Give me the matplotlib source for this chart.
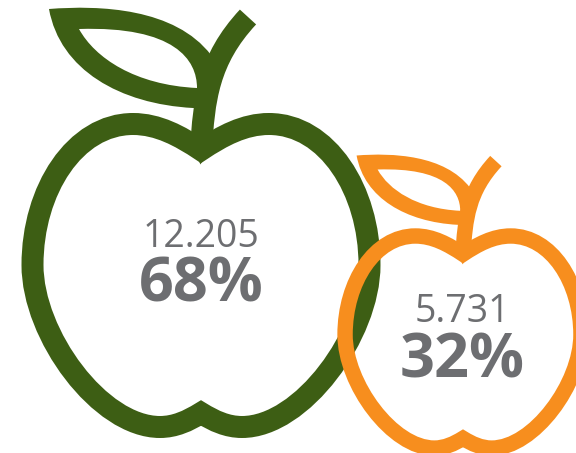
import numpy as np
import matplotlib
matplotlib.use("Agg")
import matplotlib.pyplot as plt
from matplotlib.path import Path
from matplotlib.patches import PathPatch

counts = [12205, 5731]
shares = [68, 32]
colors = ["#3d5e14", "#f78e1e"]
apple_scale = [1.0, 0.70]
anchors = [(201, 0), (463, 100)]
count_baselines = [247, 322]
share_baselines = [301, 378]
label_x = [201, 462]

M, C, L, Z = Path.MOVETO, Path.CURVE4, Path.LINETO, Path.CLOSEPOLY

body_v = [(201, 150),
          (180, 136), (158, 124), (133, 124),
          (75, 124), (32.5, 190), (32.5, 265),
          (32.5, 335), (100, 427), (160, 427),
          (175, 427), (188, 421), (201, 413),
          (214, 421), (227, 427), (242, 427),
          (302, 427), (369.5, 335), (369.5, 265),
          (369.5, 190), (327, 124), (269, 124),
          (244, 124), (222, 136), (201, 150),
          (201, 150)]
body_c = [M] + [C] * 24 + [Z]

stem_v = [(201, 150), (204, 100), (208, 60), (248, 17)]
stem_c = [M, C, C, C]
dip_v = [(190, 143), (200.5, 164.5), (212, 143), (190, 143)]
dip_c = [M, L, L, Z]

leaf_v = [(49, 9), (100, 5), (175, 8), (211, 55), (207, 95), (205, 108), (193, 108),
          (120, 104), (60, 70), (49, 9), (49, 9),
          (79, 29), (95, 58), (135, 85), (197, 88), (197, 60), (175, 26), (79, 29), (79, 29)]
leaf_c = [M, C, C, C, L, L, L, C, C, C, Z, M, C, C, C, C, C, C, Z]

fig = plt.figure(figsize=(5.76, 4.53), dpi=100)
ax = fig.add_axes([0, 0, 1, 1])
ax.set_xlim(0, 576)
ax.set_ylim(453, 0)
ax.axis("off")


def place(verts, anc, scale):
    a = np.array(verts, dtype=float)
    a[:, 0] = (a[:, 0] - 201) * scale + anc[0]
    a[:, 1] = (a[:, 1] - 164) * scale + 164 + anc[1]
    return a


for s, color, anc in zip(apple_scale, colors, anchors):
    lw = 22 * s * 0.72
    ax.add_patch(PathPatch(Path(place(body_v, anc, s), body_c), fc="none", ec=color, lw=lw,
                           joinstyle="miter", capstyle="butt"))
    ax.add_patch(PathPatch(Path(place(stem_v, anc, s), stem_c), fc="none", ec=color, lw=lw,
                           joinstyle="miter", capstyle="butt"))
    ax.add_patch(PathPatch(Path(place(dip_v, anc, s), dip_c), fc=color, ec="none", lw=0))
    ax.add_patch(PathPatch(Path(place(leaf_v, anc, s), leaf_c), fc=color, ec="none", lw=0))

for n, p, x, yc, yp in zip(counts, shares, label_x, count_baselines, share_baselines):
    ax.text(x, yc, f"{n:,}".replace(",", "."), ha="center", va="baseline", color="#6d6e71",
            family="Open Sans", fontsize=27)
    ax.text(x, yp, f"{p}%", ha="center", va="baseline", color="#6d6e71",
            family="Open Sans", fontweight="bold", fontsize=44)

fig.savefig("out.png", dpi=100, facecolor="white")
